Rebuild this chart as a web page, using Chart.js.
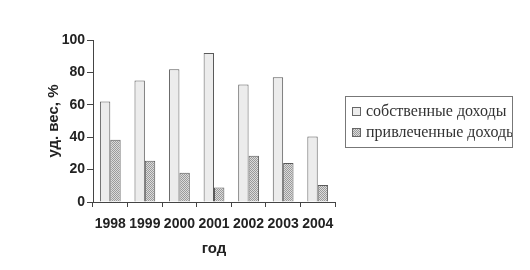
<!DOCTYPE html>
<html>
<head>
<meta charset="utf-8">
<script src="https://cdn.jsdelivr.net/npm/chart.js@4.4.0/dist/chart.umd.min.js"></script>
<style>
  html, body { margin: 0; padding: 0; background: #fff; }
  #wrap { width: 530px; height: 270px; }
</style>
</head>
<body>
<div id="wrap"><canvas id="shareChart" width="530" height="270"></canvas></div>
<script>
// Data
const years = ["1998", "1999", "2000", "2001", "2002", "2003", "2004"];
const ownIncome = [62, 75, 82, 92, 72.5, 77, 40.5];
const raisedIncome = [38.5, 25.5, 18, 9, 28.5, 24, 10.5];
const seriesNames = ["собственные доходы", "привлеченные доходы"];
const yTicks = [0, 20, 40, 60, 80, 100];

// Dotted grey fill for the second series
function dotPattern() {
  const c = document.createElement("canvas");
  c.width = 2;
  c.height = 2;
  const g = c.getContext("2d");
  g.fillStyle = "#dcdcdc";
  g.fillRect(0, 0, 2, 2);
  g.fillStyle = "#9a9a9a";
  g.fillRect(0, 0, 1, 1);
  g.fillRect(1, 1, 1, 1);
  return g.createPattern(c, "repeat");
}

const ctx = document.getElementById("shareChart").getContext("2d");
const hatch = dotPattern();
const sans = "'Liberation Sans', Arial, sans-serif";

// Legend drawn as a framed box to the right of the plot
const boxedLegend = {
  id: "boxedLegend",
  afterDraw(chart) {
    const c = chart.ctx;
    const x = 345, y = 96, w = 167, h = 51;
    c.save();
    c.strokeStyle = "#777";
    c.lineWidth = 1;
    c.strokeRect(x + 0.5, y + 0.5, w, h);
    c.beginPath();
    c.rect(x + 1, y + 1, w - 1, h - 1);
    c.clip();
    c.font = "16px 'Liberation Serif', 'DejaVu Serif', serif";
    c.textBaseline = "middle";
    chart.data.datasets.forEach((ds, i) => {
      const cy = y + 16 + i * 21;
      c.fillStyle = ds.backgroundColor;
      c.fillRect(x + 7.5, cy - 4.5, 8, 8);
      c.strokeStyle = "#666";
      c.strokeRect(x + 7.5, cy - 4.5, 8, 8);
      c.fillStyle = "#333";
      c.fillText(ds.label, x + 21, cy);
    });
    c.restore();
  },
};

new Chart(ctx, {
  type: "bar",
  data: {
    labels: years,
    datasets: [
      {
        label: seriesNames[0],
        data: ownIncome,
        backgroundColor: "#ececec",
        borderColor: "#5a5a5a",
        borderWidth: 1,
        categoryPercentage: 0.6,
        barPercentage: 1,
      },
      {
        label: seriesNames[1],
        data: raisedIncome,
        backgroundColor: hatch,
        borderColor: "#5a5a5a",
        borderWidth: 1,
        categoryPercentage: 0.6,
        barPercentage: 1,
      },
    ],
  },
  options: {
    responsive: false,
    animation: false,
    layout: { padding: { top: 40, right: 195, bottom: 0, left: 41 } },
    plugins: {
      legend: { display: false },
      tooltip: { enabled: false },
    },
    scales: {
      x: {
        grid: {
          drawOnChartArea: false,
          drawTicks: true,
          tickLength: 5,
          color: "#444",
        },
        border: { color: "#444", width: 1 },
        ticks: {
          color: "#222",
          font: { family: sans, size: 14, weight: "bold" },
          padding: 9,
          maxRotation: 0,
          minRotation: 0,
          autoSkip: false,
        },
        title: {
          display: true,
          text: "год",
          color: "#222",
          font: { family: sans, size: 15, weight: "bold" },
          padding: { top: 4, bottom: 12 },
        },
        afterFit(scale) {
          scale.height = 68;
        },
      },
      y: {
        min: 0,
        max: 100,
        afterBuildTicks(scale) {
          scale.ticks = yTicks.map((v) => ({ value: v }));
        },
        grid: {
          drawOnChartArea: false,
          drawTicks: true,
          tickLength: 6,
          color: "#444",
        },
        border: { color: "#444", width: 1 },
        ticks: {
          color: "#222",
          font: { family: sans, size: 14, weight: "bold" },
          padding: 2,
        },
        title: {
          display: true,
          text: "уд. вес, %",
          color: "#222",
          font: { family: sans, size: 15, weight: "bold" },
          padding: { bottom: 4 },
        },
        afterFit(scale) {
          scale.width = 52;
        },
      },
    },
  },
  plugins: [boxedLegend],
});
</script>
</body>
</html>
